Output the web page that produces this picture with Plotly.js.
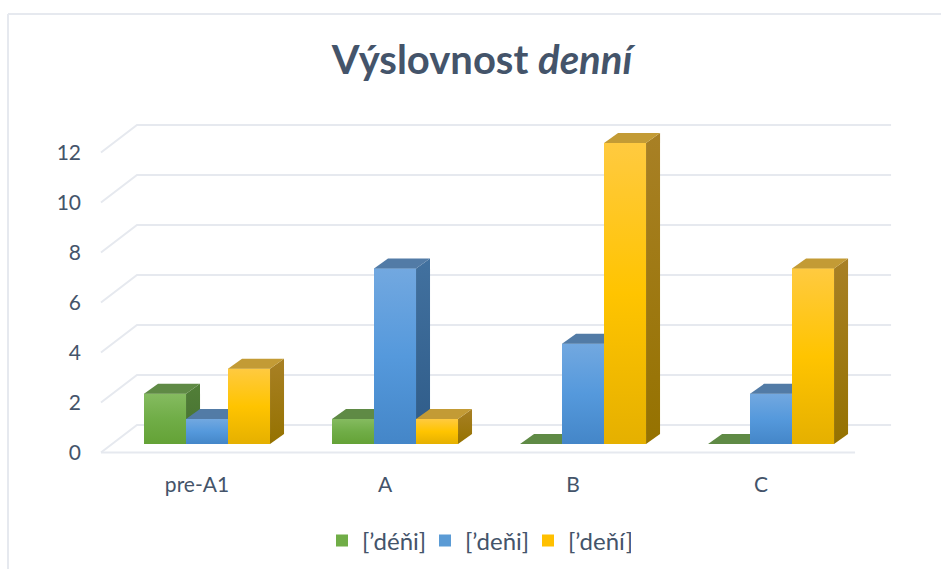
<!DOCTYPE html>
<html><head><meta charset="utf-8">
<script src="https://cdn.plot.ly/plotly-3.0.1.min.js"></script>
<style>html,body{margin:0;padding:0;background:#fff}#c{width:941px;height:569px}</style>
</head><body><div id="c"></div>
<script>
const categories = ["pre-A1", "A", "B", "C"];
const seriesNames = ["[’déňi]", "[’deňi]", "[’deňí]"];
const green = [2, 1, 0, 0];
const blue = [1, 7, 4, 2];
const yellow = [3, 1, 12, 7];
const yTicks = [0, 2, 4, 6, 8, 10, 12];

const seriesValues = [green, blue, yellow];
const ink = "#44546a", gridColor = "#e6e9ef";
const styles = [
  {base:"#70ad47", front:["#85bb60","#70ad47","#64a236"], top:"#5f8a45", side:["#527f38","#457030"]},
  {base:"#5b9bd5", front:["#72a8e0","#5599dc","#4486c8"], top:"#527ba6", side:["#42719f","#2e5b88"]},
  {base:"#ffc000", front:["#ffca40","#ffc400","#e5b000"], top:"#c39b35", side:["#a88025","#957200"]}
];
const M = {l:88, r:41, t:110, b:99};         // plot box: x 88-900, y 110-470
const W = 941, H = 569;
const xRange = [-0.633, 3.686];
const yLabelRange = [-0.7, 13.7];            // value 0 at y=452.5, 25 px per unit
const yBarRange = [-1.0367, 13.317];         // value 0 at y=444, 25.08 px per unit
const barW = 0.2234, firstOffset = -0.335;
const depthX = 14/188, depthY = 10/25.08;
const wallX = 36/188, wallY = 1.1;
const floorL = -0.564, floorR = 3.447;

const gx = [], gy = [];
yTicks.forEach(v => {
  gx.push(floorL, floorL + wallX, floorR + wallX, null);
  gy.push(v, v + wallY, v + wallY, null);
});
gx.push(floorL, floorR); gy.push(0, 0);

const traces = [{type:"scatter", mode:"lines", x:gx, y:gy, xaxis:"x", yaxis:"y",
  line:{color:gridColor, width:2}, showlegend:false, hoverinfo:"skip"}];

function frontGrad(c){ return {type:"vertical", colorscale:[[0,c[2]],[0.5,c[1]],[1,c[0]]]}; }
function sideGrad(c){ return {type:"vertical", colorscale:[[0,c[1]],[1,c[0]]]}; }

seriesValues.forEach((vals, s) => {
  const xa = "x"+(s+2), ya = "y"+(s+2), st = styles[s];
  traces.push({type:"bar", name:seriesNames[s], x:categories.map((c,i)=>i), y:vals,
    width:barW, offset:firstOffset + s*barW, xaxis:xa, yaxis:ya,
    marker:{color:st.base, line:{width:0}}, hoverinfo:"y"});
  vals.forEach((v,i) => {
    const x0 = i + firstOffset + s*barW, x1 = x0 + barW;
    const common = {type:"scatter", mode:"lines", line:{width:0}, fill:"toself",
      xaxis:xa, yaxis:ya, showlegend:false, hoverinfo:"skip"};
    if (v > 0) {
      traces.push(Object.assign({}, common, {x:[x0,x1,x1,x0,x0], y:[0,0,v,v,0], fillgradient:frontGrad(st.front)}));
      traces.push(Object.assign({}, common, {x:[x1,x1+depthX,x1+depthX,x1,x1], y:[0,depthY,v+depthY,v,0], fillgradient:sideGrad(st.side)}));
    }
    traces.push(Object.assign({}, common, {x:[x0,x1,x1+depthX,x0+depthX,x0], y:[v,v,v+depthY,v+depthY,v], fillcolor:st.top}));
  });
});

const hidden = (over, anchor, range) => ({overlaying:over, anchor, range, visible:false, fixedrange:true});
const layout = {
  width:W, height:H, margin:M, paper_bgcolor:"#fff", plot_bgcolor:"rgba(0,0,0,0)",
  barmode:"overlay", showlegend:true,
  font:{family:"Lato, Carlito, sans-serif", color:ink, size:20},
  title:{text:"<b>Výslovnost <i>denní</i></b>", font:{family:"Lato", size:40, color:ink},
    x:482/W, xref:"container", xanchor:"center", y:1-60/H, yref:"container", yanchor:"middle"},
  xaxis:{range:xRange, showgrid:false, zeroline:false, showline:false, ticks:"", fixedrange:true,
    tickmode:"array", tickvals:categories.map((c,i)=>i-10/188), ticktext:categories,
    tickfont:{size:21, color:ink}},
  yaxis:{range:yLabelRange, showgrid:false, zeroline:false, showline:false, ticks:"", fixedrange:true,
    tickmode:"array", tickvals:yTicks, ticktext:yTicks.map(String), tickfont:{size:21, color:ink}, ticklabelstandoff:6},
  xaxis2:hidden("x","y2",xRange), yaxis2:hidden("y","x2",yBarRange),
  xaxis3:hidden("x","y3",xRange), yaxis3:hidden("y","x3",yBarRange),
  xaxis4:hidden("x","y4",xRange), yaxis4:hidden("y","x4",yBarRange),
  legend:{orientation:"h", x:476.5/W, xref:"container", xanchor:"center", y:1-541/H, yref:"container", yanchor:"middle",
    font:{size:24, color:ink}, bgcolor:"rgba(0,0,0,0)", entrywidth:58, entrywidthmode:"pixels"},
  shapes:[
    {type:"line", xref:"paper", yref:"paper", x0:(8-M.l)/812, x1:(941-M.l)/812, y0:(470-14)/360, y1:(470-14)/360, line:{color:gridColor,width:2}, layer:"below"},
    {type:"line", xref:"paper", yref:"paper", x0:(8-M.l)/812, x1:(8-M.l)/812, y0:(470-14)/360, y1:(470-569)/360, line:{color:gridColor,width:2}, layer:"below"}
  ]
};
Plotly.newPlot("c", traces, layout, {displayModeBar:false, staticPlot:true});
</script></body></html>
